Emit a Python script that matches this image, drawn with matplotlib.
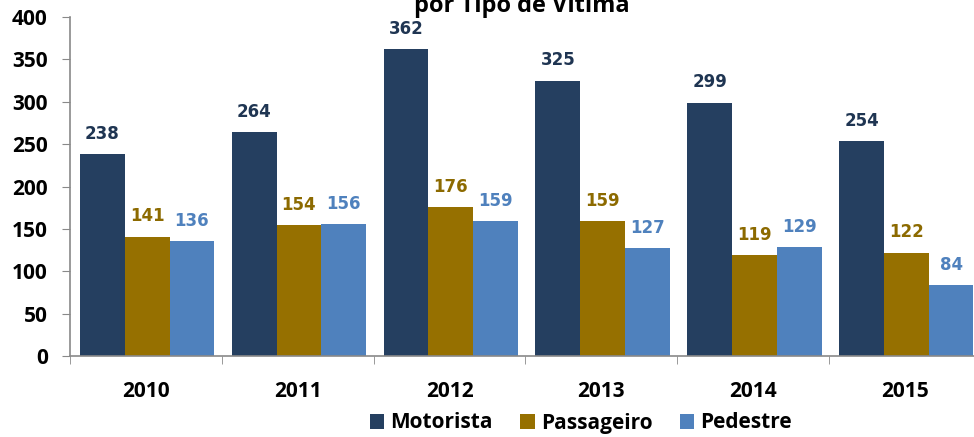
import numpy as np
import matplotlib
matplotlib.use("Agg")
import matplotlib.pyplot as plt

# data
years = ["2010", "2011", "2012", "2013", "2014", "2015"]
motorista = [238, 264, 362, 325, 299, 254]
passageiro = [141, 154, 176, 159, 119, 122]
pedestre = [136, 156, 159, 127, 129, 84]

series = [
    ("Motorista", motorista, "#253F60", "#1F3552"),
    ("Passageiro", passageiro, "#967000", "#8C6A00"),
    ("Pedestre", pedestre, "#4F81BD", "#4F81BD"),
]

fig = plt.figure(figsize=(9.74, 4.37), dpi=100)
ax = fig.add_axes([70 / 974, 1 - 356 / 437, 911 / 974, (356 - 17) / 437])

x = np.arange(len(years))
width = 0.295
for i, (name, vals, color, lcolor) in enumerate(series):
    pos = x + (i - 1) * width + 0.008
    bars = ax.bar(pos, vals, width, color=color, label=name, edgecolor="none")
    for b, v in zip(bars, vals):
        ax.annotate(str(v), (b.get_x() + b.get_width() / 2, v),
                    xytext=(0, 8), textcoords="offset points",
                    ha="center", va="bottom", fontsize=12, fontweight="bold",
                    color=lcolor, family="DejaVu Sans")

ax.set_xlim(-0.5, len(years) - 0.5)
ax.set_ylim(0, 400)
ax.set_yticks(range(0, 401, 50))
ax.set_xticks(x)
ax.set_xticklabels(years)
ax.set_xticks(np.arange(-0.5, len(years)), minor=True)
ax.tick_params(axis="x", which="major", length=0, pad=18)
ax.tick_params(axis="x", which="minor", length=6, color="#898989", direction="out")
ax.tick_params(axis="y", length=6, color="#898989", direction="out", pad=10)

for lab in ax.get_xticklabels() + ax.get_yticklabels():
    lab.set_fontsize(15)
    lab.set_fontweight("bold")
    lab.set_family("Open Sans")

for s in ["top", "right"]:
    ax.spines[s].set_visible(False)
for s in ["left", "bottom"]:
    ax.spines[s].set_color("#898989")
    ax.spines[s].set_linewidth(1.2)

fig.text(0.536, 1 - 12 / 437, "por Tipo de Vítima", ha="center", va="baseline",
         fontsize=17, fontweight="bold", family="Open Sans")

leg = fig.legend(loc="center", bbox_to_anchor=(0.5965, 1 - 423 / 437), ncol=3,
                 frameon=False, handlelength=0.7, handleheight=0.7,
                 handletextpad=0.3, columnspacing=1.3,
                 prop={"family": "Open Sans", "weight": "bold", "size": 15})

fig.savefig("out.png", dpi=100)
